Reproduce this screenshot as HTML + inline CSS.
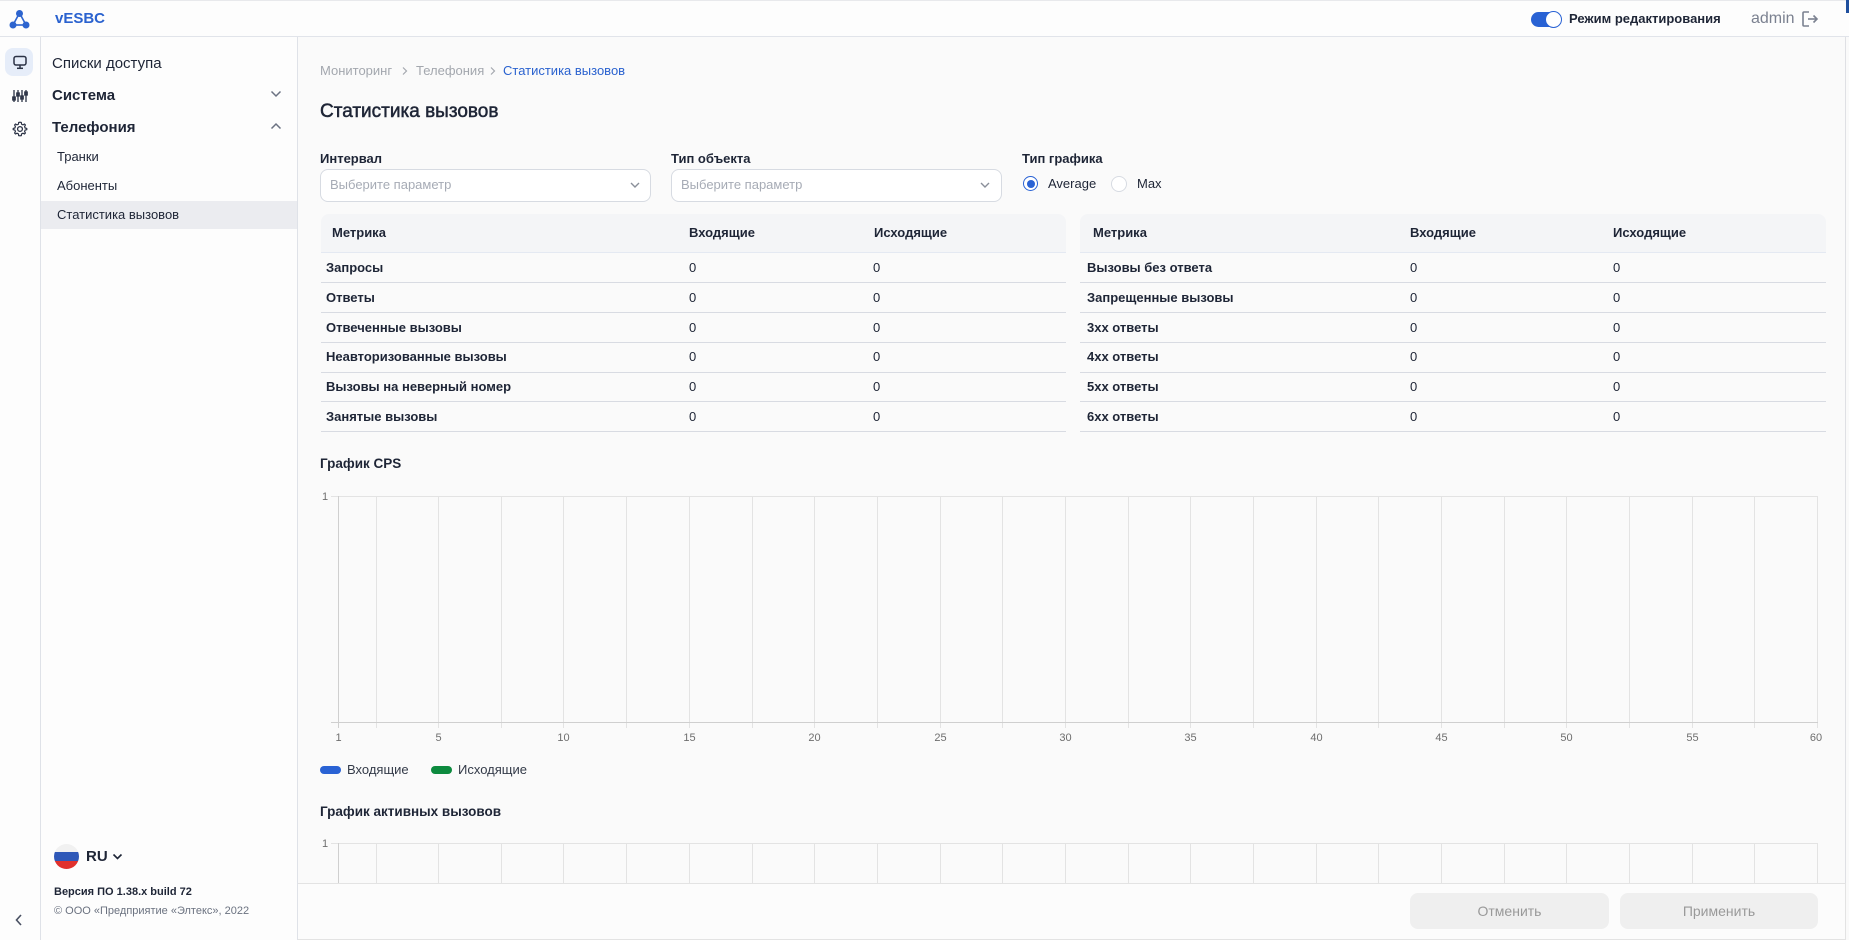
<!DOCTYPE html>
<html>
<head>
<meta charset="utf-8">
<style>
  html,body{margin:0;padding:0;}
  body{width:1849px;height:940px;position:relative;overflow:hidden;background:#fafafa;font-family:"Liberation Sans","DejaVu Sans",sans-serif;color:#1e2536;}
  .a{position:absolute;}
  .t{position:absolute;white-space:nowrap;height:20px;line-height:20px;}
  .b{font-weight:bold;}
</style>
</head>
<body>

<!-- header -->
<div class="a" style="left:0;top:0;width:1849px;height:36px;background:#fdfdfd;border-bottom:1px solid #e1e4ea;"></div>
<div class="a" style="left:0;top:0;width:1849px;height:1px;background:#e8e9ec;"></div>
<svg class="a" style="left:9px;top:9px" width="21" height="21" viewBox="0 0 21 21">
  <line x1="10.5" y1="4" x2="4" y2="16" stroke="#2d64cf" stroke-width="1.6"/>
  <line x1="10.5" y1="4" x2="17" y2="16" stroke="#2d64cf" stroke-width="1.6"/>
  <line x1="4" y1="16" x2="17" y2="16" stroke="#2d64cf" stroke-width="1.6"/>
  <circle cx="10.5" cy="4.5" r="3.5" fill="#2d64cf"/>
  <circle cx="4" cy="16" r="3.5" fill="#2d64cf"/>
  <circle cx="17" cy="16" r="3.5" fill="#2d64cf"/>
</svg>
<div class="t b" style="left:55px;top:9px;font-size:15px;color:#2a62cf;">vESBC</div>

<!-- toggle -->
<div class="a" style="left:1531px;top:12px;width:30px;height:15px;border-radius:8px;background:#2962d4;"></div>
<div class="a" style="left:1545px;top:11px;width:15px;height:15px;border-radius:50%;background:#fff;border:1px solid #2962d4;"></div>
<div class="t b" style="left:1569px;top:9px;font-size:13px;color:#1e2536;">Режим редактирования</div>
<div class="t" style="left:1751px;top:9px;font-size:16px;color:#7b8190;">admin</div>
<svg class="a" style="left:1801px;top:10px" width="18" height="18" viewBox="0 0 18 18">
  <path d="M8 2 H3 Q2 2 2 3 V15 Q2 16 3 16 H8" fill="none" stroke="#7b8190" stroke-width="1.6"/>
  <line x1="7" y1="9" x2="16" y2="9" stroke="#7b8190" stroke-width="1.6"/>
  <path d="M12.5 5.5 L16 9 L12.5 12.5" fill="none" stroke="#7b8190" stroke-width="1.6"/>
</svg>
<div class="a" style="left:1846px;top:0;width:3px;height:13px;background:#1f4f9e;"></div>

<!-- icon column -->
<div class="a" style="left:0;top:37px;width:40px;height:903px;background:#fdfdfd;border-right:1px solid #dfe2e8;"></div>
<div class="a" style="left:5px;top:48px;width:28px;height:28px;border-radius:8px;background:#e6edf9;"></div>
<svg class="a" style="left:12px;top:55px" width="16" height="15" viewBox="0 0 16 15">
  <rect x="2" y="1.5" width="12" height="8.5" rx="2" fill="none" stroke="#2b3245" stroke-width="1.5"/>
  <line x1="8" y1="10" x2="8" y2="13" stroke="#2b3245" stroke-width="1.5"/>
  <line x1="5" y1="13.3" x2="11" y2="13.3" stroke="#2b3245" stroke-width="1.5"/>
</svg>
<svg class="a" style="left:12px;top:88px" width="16" height="16" viewBox="0 0 16 16">
  <g stroke="#2b3245" stroke-width="1.3" fill="none">
  <line x1="2" y1="2" x2="2" y2="14"/><line x1="6" y1="2" x2="6" y2="14"/><line x1="10" y1="2" x2="10" y2="14"/><line x1="14" y1="2" x2="14" y2="14"/>
  <rect x="0.8" y="9" width="2.4" height="3"/><rect x="4.8" y="5" width="2.4" height="3"/><rect x="8.8" y="8" width="2.4" height="3"/><rect x="12.8" y="4" width="2.4" height="3"/>
  </g>
</svg>
<svg class="a" style="left:12px;top:121px" width="16" height="16" viewBox="0 0 16 16">
  <circle cx="8" cy="8" r="2.4" fill="none" stroke="#2b3245" stroke-width="1.3"/>
  <path d="M8 1.2 L9.3 1.5 L9.6 3.2 L11 3.9 L12.5 3 L13.4 4 L12.6 5.5 L13.1 7 L14.8 7.4 L14.8 8.7 L13.1 9.1 L12.6 10.6 L13.4 12 L12.5 13 L11 12.2 L9.6 12.9 L9.3 14.6 L8 14.8 L6.7 14.6 L6.4 12.9 L5 12.2 L3.5 13 L2.6 12 L3.4 10.6 L2.9 9.1 L1.2 8.7 L1.2 7.4 L2.9 7 L3.4 5.5 L2.6 4 L3.5 3 L5 3.9 L6.4 3.2 L6.7 1.5 Z" fill="none" stroke="#2b3245" stroke-width="1.2" stroke-linejoin="round"/>
</svg>
<svg class="a" style="left:14px;top:913px" width="10" height="14" viewBox="0 0 10 14">
  <path d="M7 2 L2.5 7 L7 12" fill="none" stroke="#4a5163" stroke-width="1.6"/>
</svg>

<!-- sidebar -->
<div class="a" style="left:41px;top:37px;width:256px;height:903px;background:#fdfdfd;border-right:1px solid #dfe2e8;"></div>
<div class="t" style="left:52px;top:54px;font-size:15px;">Списки доступа</div>
<div class="t b" style="left:52px;top:86px;font-size:15px;">Система</div>
<svg class="a" style="left:270px;top:90px" width="12" height="8" viewBox="0 0 12 8"><path d="M1.5 1.5 L6 6 L10.5 1.5" fill="none" stroke="#6b7282" stroke-width="1.5"/></svg>
<div class="t b" style="left:52px;top:118px;font-size:15px;">Телефония</div>
<svg class="a" style="left:270px;top:122px" width="12" height="8" viewBox="0 0 12 8"><path d="M1.5 6.5 L6 2 L10.5 6.5" fill="none" stroke="#6b7282" stroke-width="1.5"/></svg>
<div class="t" style="left:57px;top:147px;font-size:13px;">Транки</div>
<div class="t" style="left:57px;top:176px;font-size:13px;">Абоненты</div>
<div class="a" style="left:41px;top:201px;width:256px;height:28px;background:#ebecf0;"></div>
<div class="t" style="left:57px;top:205px;font-size:13px;">Статистика вызовов</div>

<!-- flag -->
<div class="a" style="left:54px;top:844px;width:25px;height:25px;border-radius:50%;overflow:hidden;">
  <div style="height:8.3px;background:#f1f1f1;"></div>
  <div style="height:8.4px;background:#2f58b8;"></div>
  <div style="height:8.3px;background:#e0312d;"></div>
</div>
<div class="t b" style="left:86px;top:847px;font-size:15px;">RU</div>
<svg class="a" style="left:112px;top:853px" width="11" height="8" viewBox="0 0 11 8"><path d="M1.5 1.5 L5.5 5.5 L9.5 1.5" fill="none" stroke="#1e2536" stroke-width="1.6"/></svg>
<div class="t b" style="left:54px;top:882px;font-size:11px;">Версия ПО 1.38.x build 72</div>
<div class="t" style="left:54px;top:901px;font-size:11px;color:#6b7280;">© ООО «Предприятие «Элтекс», 2022</div>

<!-- right edge -->
<div class="a" style="left:1845px;top:37px;width:1px;height:903px;background:#dfe0e4;"></div>

<!-- breadcrumb -->
<div class="t" style="left:320px;top:61px;font-size:13px;color:#a3a7ae;">Мониторинг</div>
<svg class="a" style="left:401px;top:66px" width="8" height="10" viewBox="0 0 8 10"><path d="M2 1.5 L5.5 5 L2 8.5" fill="none" stroke="#a3a7ae" stroke-width="1.2"/></svg>
<div class="t" style="left:416px;top:61px;font-size:13px;color:#a3a7ae;">Телефония</div>
<svg class="a" style="left:489px;top:66px" width="8" height="10" viewBox="0 0 8 10"><path d="M2 1.5 L5.5 5 L2 8.5" fill="none" stroke="#a3a7ae" stroke-width="1.2"/></svg>
<div class="t" style="left:503px;top:61px;font-size:13px;color:#2a62cf;">Статистика вызовов</div>

<!-- title -->
<div class="t" style="left:320px;top:101px;font-size:19px;height:22px;line-height:22px;-webkit-text-stroke:0.5px #1e2536;">Статистика вызовов</div>

<!-- filters -->
<div class="t b" style="left:320px;top:149px;font-size:13px;">Интервал</div>
<div class="t b" style="left:671px;top:149px;font-size:13px;">Тип объекта</div>
<div class="t b" style="left:1022px;top:149px;font-size:13px;">Тип графика</div>

<div class="a" style="left:320px;top:169px;width:329px;height:31px;border:1px solid #d7dbe2;border-radius:8px;background:#fff;"></div>
<div class="t" style="left:330px;top:175px;font-size:13px;color:#a6abb5;">Выберите параметр</div>
<svg class="a" style="left:629px;top:181px" width="12" height="8" viewBox="0 0 12 8"><path d="M2 2 L6 6 L10 2" fill="none" stroke="#8a8f99" stroke-width="1.4"/></svg>

<div class="a" style="left:671px;top:169px;width:329px;height:31px;border:1px solid #d7dbe2;border-radius:8px;background:#fff;"></div>
<div class="t" style="left:681px;top:175px;font-size:13px;color:#a6abb5;">Выберите параметр</div>
<svg class="a" style="left:979px;top:181px" width="12" height="8" viewBox="0 0 12 8"><path d="M2 2 L6 6 L10 2" fill="none" stroke="#8a8f99" stroke-width="1.4"/></svg>

<div class="a" style="left:1023px;top:176px;width:13px;height:13px;border-radius:50%;border:1.5px solid #2962d4;background:#fff;"></div>
<div class="a" style="left:1027px;top:180px;width:8px;height:8px;border-radius:50%;background:#2962d4;"></div>
<div class="t" style="left:1048px;top:174px;font-size:13px;">Average</div>
<div class="a" style="left:1111px;top:176px;width:14px;height:14px;border-radius:50%;border:1px solid #d7dbe2;background:#fff;"></div>
<div class="t" style="left:1137px;top:174px;font-size:13px;">Max</div>

<!-- left table -->
<div class="a" style="left:321px;top:214px;width:745px;height:38px;background:#f4f5f7;border-radius:8px 8px 0 0;border-bottom:1px solid #e4e9f2;"></div>
<div class="t b" style="left:332px;top:223px;font-size:13px;">Метрика</div>
<div class="t b" style="left:689px;top:223px;font-size:13px;">Входящие</div>
<div class="t b" style="left:874px;top:223px;font-size:13px;">Исходящие</div>

<!-- right table -->
<div class="a" style="left:1080px;top:214px;width:746px;height:38px;background:#f4f5f7;border-radius:8px 8px 0 0;border-bottom:1px solid #e4e9f2;"></div>
<div class="t b" style="left:1093px;top:223px;font-size:13px;">Метрика</div>
<div class="t b" style="left:1410px;top:223px;font-size:13px;">Входящие</div>
<div class="t b" style="left:1613px;top:223px;font-size:13px;">Исходящие</div>

<!-- rows separators -->
<div class="a" style="left:321px;top:282px;width:745px;height:1px;background:#d8dbe2;"></div>
<div class="a" style="left:321px;top:312px;width:745px;height:1px;background:#d8dbe2;"></div>
<div class="a" style="left:321px;top:342px;width:745px;height:1px;background:#d8dbe2;"></div>
<div class="a" style="left:321px;top:372px;width:745px;height:1px;background:#d8dbe2;"></div>
<div class="a" style="left:321px;top:401px;width:745px;height:1px;background:#d8dbe2;"></div>
<div class="a" style="left:321px;top:431px;width:745px;height:1px;background:#d8dbe2;"></div>
<div class="a" style="left:1080px;top:282px;width:746px;height:1px;background:#d8dbe2;"></div>
<div class="a" style="left:1080px;top:312px;width:746px;height:1px;background:#d8dbe2;"></div>
<div class="a" style="left:1080px;top:342px;width:746px;height:1px;background:#d8dbe2;"></div>
<div class="a" style="left:1080px;top:372px;width:746px;height:1px;background:#d8dbe2;"></div>
<div class="a" style="left:1080px;top:401px;width:746px;height:1px;background:#d8dbe2;"></div>
<div class="a" style="left:1080px;top:431px;width:746px;height:1px;background:#d8dbe2;"></div>

<!-- left rows -->
<div class="t b" style="left:326px;top:258px;font-size:13px;">Запросы</div>
<div class="t b" style="left:326px;top:288px;font-size:13px;">Ответы</div>
<div class="t b" style="left:326px;top:318px;font-size:13px;">Отвеченные вызовы</div>
<div class="t b" style="left:326px;top:347px;font-size:13px;">Неавторизованные вызовы</div>
<div class="t b" style="left:326px;top:377px;font-size:13px;">Вызовы на неверный номер</div>
<div class="t b" style="left:326px;top:407px;font-size:13px;">Занятые вызовы</div>
<div class="t" style="left:689px;top:258px;font-size:13px;">0</div>
<div class="t" style="left:689px;top:288px;font-size:13px;">0</div>
<div class="t" style="left:689px;top:318px;font-size:13px;">0</div>
<div class="t" style="left:689px;top:347px;font-size:13px;">0</div>
<div class="t" style="left:689px;top:377px;font-size:13px;">0</div>
<div class="t" style="left:689px;top:407px;font-size:13px;">0</div>
<div class="t" style="left:873px;top:258px;font-size:13px;">0</div>
<div class="t" style="left:873px;top:288px;font-size:13px;">0</div>
<div class="t" style="left:873px;top:318px;font-size:13px;">0</div>
<div class="t" style="left:873px;top:347px;font-size:13px;">0</div>
<div class="t" style="left:873px;top:377px;font-size:13px;">0</div>
<div class="t" style="left:873px;top:407px;font-size:13px;">0</div>

<!-- right rows -->
<div class="t b" style="left:1087px;top:258px;font-size:13px;">Вызовы без ответа</div>
<div class="t b" style="left:1087px;top:288px;font-size:13px;">Запрещенные вызовы</div>
<div class="t b" style="left:1087px;top:318px;font-size:13px;">3xx ответы</div>
<div class="t b" style="left:1087px;top:347px;font-size:13px;">4xx ответы</div>
<div class="t b" style="left:1087px;top:377px;font-size:13px;">5xx ответы</div>
<div class="t b" style="left:1087px;top:407px;font-size:13px;">6xx ответы</div>
<div class="t" style="left:1410px;top:258px;font-size:13px;">0</div>
<div class="t" style="left:1410px;top:288px;font-size:13px;">0</div>
<div class="t" style="left:1410px;top:318px;font-size:13px;">0</div>
<div class="t" style="left:1410px;top:347px;font-size:13px;">0</div>
<div class="t" style="left:1410px;top:377px;font-size:13px;">0</div>
<div class="t" style="left:1410px;top:407px;font-size:13px;">0</div>
<div class="t" style="left:1613px;top:258px;font-size:13px;">0</div>
<div class="t" style="left:1613px;top:288px;font-size:13px;">0</div>
<div class="t" style="left:1613px;top:318px;font-size:13px;">0</div>
<div class="t" style="left:1613px;top:347px;font-size:13px;">0</div>
<div class="t" style="left:1613px;top:377px;font-size:13px;">0</div>
<div class="t" style="left:1613px;top:407px;font-size:13px;">0</div>

<!-- chart titles -->
<div class="t b" style="left:320px;top:454px;font-size:13.5px;">График CPS</div>
<div class="t b" style="left:320px;top:802px;font-size:13.5px;">График активных вызовов</div>

<!-- charts -->
<svg class="a" style="left:0;top:0" width="1849" height="940" viewBox="0 0 1849 940" font-family="Liberation Sans, DejaVu Sans, sans-serif">
  <g stroke="#e3e3e3" stroke-width="1">
    <line x1="376.5" y1="496" x2="376.5" y2="728"/>
    <line x1="438.5" y1="496" x2="438.5" y2="728"/>
    <line x1="501.5" y1="496" x2="501.5" y2="728"/>
    <line x1="563.5" y1="496" x2="563.5" y2="728"/>
    <line x1="626.5" y1="496" x2="626.5" y2="728"/>
    <line x1="689.5" y1="496" x2="689.5" y2="728"/>
    <line x1="752.5" y1="496" x2="752.5" y2="728"/>
    <line x1="814.5" y1="496" x2="814.5" y2="728"/>
    <line x1="877.5" y1="496" x2="877.5" y2="728"/>
    <line x1="940.5" y1="496" x2="940.5" y2="728"/>
    <line x1="1002.5" y1="496" x2="1002.5" y2="728"/>
    <line x1="1065.5" y1="496" x2="1065.5" y2="728"/>
    <line x1="1128.5" y1="496" x2="1128.5" y2="728"/>
    <line x1="1190.5" y1="496" x2="1190.5" y2="728"/>
    <line x1="1253.5" y1="496" x2="1253.5" y2="728"/>
    <line x1="1316.5" y1="496" x2="1316.5" y2="728"/>
    <line x1="1378.5" y1="496" x2="1378.5" y2="728"/>
    <line x1="1441.5" y1="496" x2="1441.5" y2="728"/>
    <line x1="1504.5" y1="496" x2="1504.5" y2="728"/>
    <line x1="1566.5" y1="496" x2="1566.5" y2="728"/>
    <line x1="1629.5" y1="496" x2="1629.5" y2="728"/>
    <line x1="1692.5" y1="496" x2="1692.5" y2="728"/>
    <line x1="1754.5" y1="496" x2="1754.5" y2="728"/>
    <line x1="1817.5" y1="496" x2="1817.5" y2="728"/>
    <line x1="331" y1="496.5" x2="1818" y2="496.5"/>
    <line x1="376.5" y1="843" x2="376.5" y2="884"/>
    <line x1="438.5" y1="843" x2="438.5" y2="884"/>
    <line x1="501.5" y1="843" x2="501.5" y2="884"/>
    <line x1="563.5" y1="843" x2="563.5" y2="884"/>
    <line x1="626.5" y1="843" x2="626.5" y2="884"/>
    <line x1="689.5" y1="843" x2="689.5" y2="884"/>
    <line x1="752.5" y1="843" x2="752.5" y2="884"/>
    <line x1="814.5" y1="843" x2="814.5" y2="884"/>
    <line x1="877.5" y1="843" x2="877.5" y2="884"/>
    <line x1="940.5" y1="843" x2="940.5" y2="884"/>
    <line x1="1002.5" y1="843" x2="1002.5" y2="884"/>
    <line x1="1065.5" y1="843" x2="1065.5" y2="884"/>
    <line x1="1128.5" y1="843" x2="1128.5" y2="884"/>
    <line x1="1190.5" y1="843" x2="1190.5" y2="884"/>
    <line x1="1253.5" y1="843" x2="1253.5" y2="884"/>
    <line x1="1316.5" y1="843" x2="1316.5" y2="884"/>
    <line x1="1378.5" y1="843" x2="1378.5" y2="884"/>
    <line x1="1441.5" y1="843" x2="1441.5" y2="884"/>
    <line x1="1504.5" y1="843" x2="1504.5" y2="884"/>
    <line x1="1566.5" y1="843" x2="1566.5" y2="884"/>
    <line x1="1629.5" y1="843" x2="1629.5" y2="884"/>
    <line x1="1692.5" y1="843" x2="1692.5" y2="884"/>
    <line x1="1754.5" y1="843" x2="1754.5" y2="884"/>
    <line x1="1817.5" y1="843" x2="1817.5" y2="884"/>
    <line x1="331" y1="843.5" x2="1818" y2="843.5"/>
  </g>
  <g stroke="#cfcfcf" stroke-width="1">
    <line x1="338.5" y1="496" x2="338.5" y2="728"/>
    <line x1="331" y1="722.5" x2="1818" y2="722.5"/>
    <line x1="338.5" y1="843" x2="338.5" y2="884"/>
  </g>
  <g fill="#6e6e6e" font-size="11" text-anchor="middle">
    <text x="325" y="500">1</text>
    <text x="325" y="847">1</text>
    <text x="338.5" y="741">1</text>
    <text x="438.5" y="741">5</text>
    <text x="563.5" y="741">10</text>
    <text x="689.5" y="741">15</text>
    <text x="814.5" y="741">20</text>
    <text x="940.5" y="741">25</text>
    <text x="1065.5" y="741">30</text>
    <text x="1190.5" y="741">35</text>
    <text x="1316.5" y="741">40</text>
    <text x="1441.5" y="741">45</text>
    <text x="1566.5" y="741">50</text>
    <text x="1692.5" y="741">55</text>
    <text x="1816" y="741">60</text>
  </g>
</svg>

<!-- legend -->
<div class="a" style="left:320px;top:766px;width:21px;height:8px;border-radius:4px;background:#2962d4;"></div>
<div class="t" style="left:347px;top:760px;font-size:13px;color:#333a48;">Входящие</div>
<div class="a" style="left:431px;top:766px;width:21px;height:8px;border-radius:4px;background:#0c8a3e;"></div>
<div class="t" style="left:458px;top:760px;font-size:13px;color:#333a48;">Исходящие</div>

<!-- footer -->
<div class="a" style="left:298px;top:883px;width:1547px;height:55px;background:#fcfcfc;border-top:1px solid #e3e3e3;border-bottom:1px solid #e3e3e3;border-right:1px solid #e3e3e3;"></div>
<div class="a" style="left:1410px;top:893px;width:199px;height:36px;border-radius:8px;background:#efefef;color:#999;font-size:14px;line-height:36px;text-align:center;">Отменить</div>
<div class="a" style="left:1620px;top:893px;width:198px;height:36px;border-radius:8px;background:#efefef;color:#999;font-size:14px;line-height:36px;text-align:center;">Применить</div>

</body>
</html>
